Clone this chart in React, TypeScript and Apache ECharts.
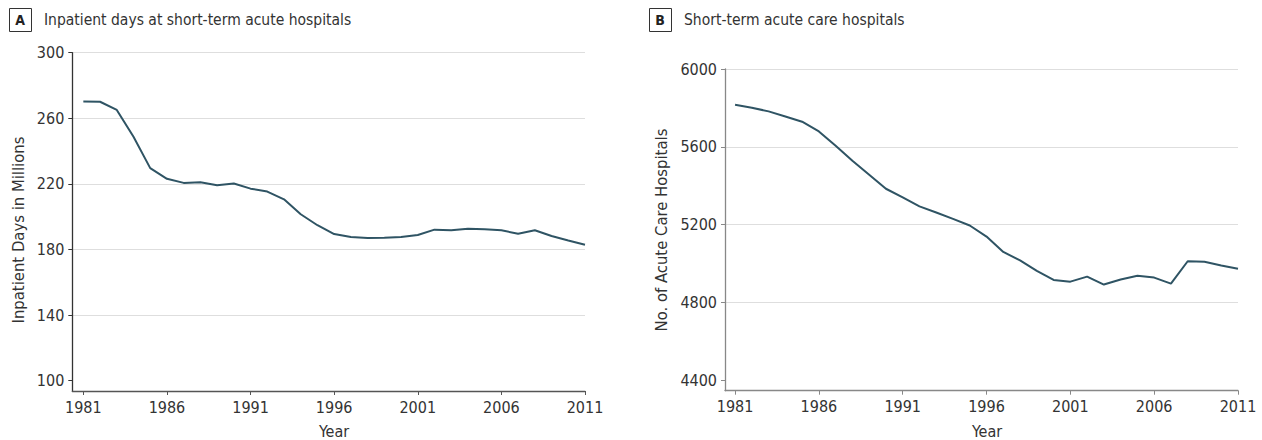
import React, { useEffect, useRef } from "react";
import * as echarts from "echarts";

const years = [
  1981, 1982, 1983, 1984, 1985, 1986, 1987, 1988, 1989, 1990,
  1991, 1992, 1993, 1994, 1995, 1996, 1997, 1998, 1999, 2000,
  2001, 2002, 2003, 2004, 2005, 2006, 2007, 2008, 2009, 2010, 2011,
];

const inpatientDays = [
  270.2, 270.1, 265.1, 248.7, 229.6, 223.1, 220.6, 221.0, 219.2, 220.2,
  217.1, 215.3, 210.6, 201.5, 194.8, 189.4, 187.6, 187.0, 187.2, 187.6,
  188.8, 192.1, 191.7, 192.7, 192.3, 191.7, 189.6, 191.7, 188.2, 185.5, 182.9,
];

const hospitals = [
  5816, 5801, 5782, 5756, 5729, 5679, 5605, 5528, 5456, 5384,
  5339, 5293, 5262, 5229, 5195, 5138, 5059, 5015, 4961, 4915,
  4906, 4932, 4891, 4917, 4936, 4927, 4896, 5011, 5008, 4989, 4972,
];

const yearTicks = [1981, 1986, 1991, 1996, 2001, 2006, 2011];
const daysTicks = [100, 140, 180, 220, 260, 300];
const daysGridTicks = [140, 180, 220, 260, 300];
const hospTicks = [4400, 4800, 5200, 5600, 6000];
const hospGridTicks = [4800, 5200, 5600, 6000];

const FONT = "'Liberation Sans Narrow', 'DejaVu Sans Condensed', Roboto, sans-serif";
const TEXT = "#333333";
const LINE = "#2f5464";

export default function App() {
  const ref = useRef<HTMLDivElement>(null);
  useEffect(() => {
    if (!ref.current) return;
    const chart = echarts.init(ref.current, null, { renderer: "svg" });

    const plain = (v: number) => String(v);

    const xAxisBase = (gridIndex: number, min: number, axisColor: string) => ({
      type: "value",
      gridIndex,
      min,
      max: 2011,
      axisLine: { show: true, lineStyle: { color: axisColor, width: 1.3 } },
      axisTick: { show: true, length: 4, lineStyle: { color: axisColor }, customValues: yearTicks },
      axisLabel: { customValues: yearTicks, formatter: plain, color: TEXT, fontFamily: FONT, fontSize: 16, margin: 8 },
      splitLine: { show: false },
    });

    const yAxisMain = (gridIndex: number, min: number, max: number, ticks: number[], axisColor: string) => ({
      type: "value",
      gridIndex,
      min,
      max,
      axisLine: { show: true, lineStyle: { color: axisColor, width: 1.3 } },
      axisTick: { show: true, length: 4, lineStyle: { color: axisColor }, customValues: ticks },
      axisLabel: { customValues: ticks, formatter: plain, color: TEXT, fontFamily: FONT, fontSize: 16, margin: 8 },
      splitLine: { show: false },
    });

    const yAxisGrid = (gridIndex: number, min: number, max: number, ticks: number[]) => ({
      type: "value",
      gridIndex,
      min,
      max,
      axisLine: { show: false },
      axisTick: { show: false, customValues: ticks },
      axisLabel: { show: false, customValues: ticks },
      splitLine: { show: true, lineStyle: { color: "#dedede", width: 1 } },
    });

    const titleGroup = (x: number, letter: string, title: string) => [
      {
        type: "rect",
        left: x,
        top: 8,
        shape: { width: 22, height: 23 },
        style: { fill: "#fff", stroke: "#333", lineWidth: 1 },
      },
      {
        type: "text",
        x: x + 11,
        y: 20,
        style: { text: letter, font: `bold 14px ${FONT}`, fill: "#222", align: "center", verticalAlign: "middle" },
      },
      {
        type: "text",
        x: x + 35,
        y: 20,
        style: { text: title, font: `15.5px ${FONT}`, fill: TEXT, verticalAlign: "middle" },
      },
    ];

    chart.setOption({
      animation: false,
      backgroundColor: "#ffffff",
      grid: [
        { left: 72.3, right: 677, top: 52.7, bottom: 49, containLabel: false },
        { left: 725, right: 24, top: 69, bottom: 49.3, containLabel: false },
      ],
      xAxis: [
        xAxisBase(0, 1980.34, "#555"),
        xAxisBase(1, 1980.4, "#888"),
      ],
      yAxis: [
        yAxisMain(0, 93.7, 300, daysTicks, "#333"),
        yAxisMain(1, 4345, 6000, hospTicks, "#888"),
        yAxisGrid(0, 93.7, 300, daysGridTicks),
        yAxisGrid(1, 4345, 6000, hospGridTicks),
      ],
      series: [
        {
          type: "line",
          xAxisIndex: 0,
          yAxisIndex: 0,
          data: years.map((y, i) => [y, inpatientDays[i]]),
          showSymbol: false,
          lineStyle: { color: LINE, width: 2 },
          z: 5,
        },
        {
          type: "line",
          xAxisIndex: 1,
          yAxisIndex: 1,
          data: years.map((y, i) => [y, hospitals[i]]),
          showSymbol: false,
          lineStyle: { color: LINE, width: 2 },
          z: 5,
        },
      ],
      graphic: [
        ...titleGroup(9, "A", "Inpatient days at short-term acute hospitals"),
        ...titleGroup(649, "B", "Short-term acute care hospitals"),
        {
          type: "text",
          x: 18,
          y: 230,
          rotation: Math.PI / 2,
          style: {
            text: "Inpatient Days in Millions",
            font: `16.5px ${FONT}`,
            fill: TEXT,
            align: "center",
            verticalAlign: "middle",
          },
        },
        {
          type: "text",
          x: 661,
          y: 230,
          rotation: Math.PI / 2,
          style: {
            text: "No. of Acute Care Hospitals",
            font: `16.5px ${FONT}`,
            fill: TEXT,
            align: "center",
            verticalAlign: "middle",
          },
        },
        {
          type: "text",
          x: 334,
          y: 431,
          style: { text: "Year", font: `16px ${FONT}`, fill: TEXT, align: "center", verticalAlign: "middle" },
        },
        {
          type: "text",
          x: 987,
          y: 431,
          style: { text: "Year", font: `16px ${FONT}`, fill: TEXT, align: "center", verticalAlign: "middle" },
        },
      ],
    });

    return () => chart.dispose();
  }, []);

  return <div ref={ref} style={{ width: 1262, height: 440, position: "absolute", left: 0, top: 0 }} />;
}
